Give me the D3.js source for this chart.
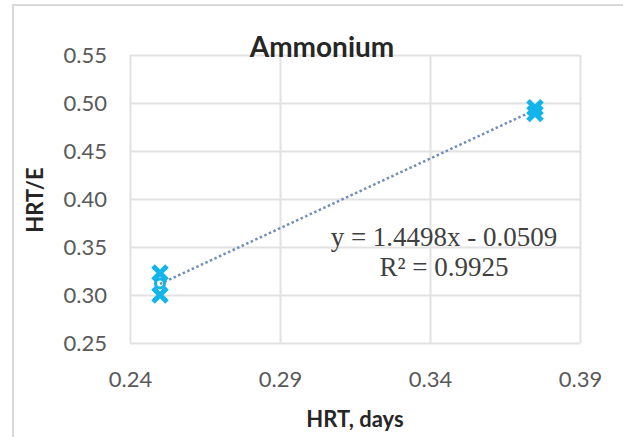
<!DOCTYPE html>
<html>
<head>
<meta charset="utf-8">
<script src="https://cdn.jsdelivr.net/npm/d3@7"></script>
<style>
  html, body { margin: 0; padding: 0; background: #fff; }
  svg { display: block; }
</style>
</head>
<body>
<svg id="chart"></svg>
<script>
// data
const hrtLow = [0.25, 0.25, 0.25];
const hrtELow = [0.323, 0.312, 0.300];
const hrtHigh = [0.375, 0.375, 0.375];
const hrtEHigh = [0.495, 0.492, 0.489];
const markerKinds = ["x", "circle", "x"];

const xTicks = [0.24, 0.29, 0.34, 0.39];
const yTicks = [0.25, 0.30, 0.35, 0.40, 0.45, 0.50, 0.55];

const slope = 1.4498;
const intercept = -0.0509;
const trendRange = [0.25, 0.375];
const eqLabel = "y = 1.4498x - 0.0509";
const r2Label = "R² = 0.9925";

const width = 623;
const height = 437;
const margin = { top: 55, right: 43, bottom: 94, left: 130 };

const svg = d3.select("#chart")
  .attr("width", width)
  .attr("height", height)
  .attr("viewBox", [0, 0, width, height]);

// chart frame
svg.append("rect")
  .attr("x", 13)
  .attr("y", 5)
  .attr("width", width)
  .attr("height", height)
  .attr("fill", "#fff")
  .attr("stroke", "#d9d9d9")
  .attr("stroke-width", 2);

const xScale = d3.scaleLinear()
  .domain([0.24, 0.39])
  .range([margin.left, width - margin.right]);

const yScale = d3.scaleLinear()
  .domain([0.25, 0.55])
  .range([height - margin.bottom, margin.top]);

const tickFont = "Lato, 'Open Sans', sans-serif";

// gridlines
const gy = svg.append("g")
  .attr("transform", `translate(${margin.left},0)`)
  .call(d3.axisLeft(yScale).tickValues(yTicks)
    .tickSize(-(width - margin.left - margin.right))
    .tickFormat(d3.format(".2f"))
    .tickPadding(23));
gy.select(".domain").remove();
gy.selectAll(".tick line").attr("stroke", "#e2e2e2").attr("stroke-width", 2);
gy.selectAll(".tick text")
  .attr("fill", "#595959")
  .style("font-family", tickFont)
  .style("font-size", "22px");

const gx = svg.append("g")
  .attr("transform", `translate(0,${height - margin.bottom})`)
  .call(d3.axisBottom(xScale).tickValues(xTicks)
    .tickSize(-(height - margin.top - margin.bottom))
    .tickFormat(d3.format(".2f"))
    .tickPadding(28));
gx.select(".domain").remove();
gx.selectAll(".tick line").attr("stroke", "#e2e2e2").attr("stroke-width", 2);
gx.selectAll(".tick text")
  .attr("fill", "#595959")
  .style("font-family", tickFont)
  .style("font-size", "22px");

// trendline (dotted)
svg.append("line")
  .attr("x1", xScale(trendRange[0]))
  .attr("y1", yScale(slope * trendRange[0] + intercept))
  .attr("x2", xScale(trendRange[1]))
  .attr("y2", yScale(slope * trendRange[1] + intercept))
  .attr("stroke", "#6f8fb8")
  .attr("stroke-width", 2.5)
  .attr("stroke-dasharray", "2.5,2.5");

// markers
const points = hrtLow.map((x, i) => ({ x, y: hrtELow[i], kind: markerKinds[i] }))
  .concat(hrtHigh.map((x, i) => ({ x, y: hrtEHigh[i], kind: markerKinds[i] })));

const color = "#12b4ec";
const s = 7;
const marks = svg.append("g");
points.forEach(p => {
  const cx = xScale(p.x), cy = yScale(p.y);
  if (p.kind === "x") {
    marks.append("path")
      .attr("d", `M${cx - s},${cy - s}L${cx + s},${cy + s}M${cx - s},${cy + s}L${cx + s},${cy - s}`)
      .attr("stroke", color)
      .attr("stroke-width", 5);
  } else {
    marks.append("circle")
      .attr("cx", cx)
      .attr("cy", cy)
      .attr("r", 4.5)
      .attr("fill", "none")
      .attr("stroke", color)
      .attr("stroke-width", 3);
  }
});

// equation
const eq = svg.append("text")
  .attr("text-anchor", "middle")
  .attr("fill", "#404040")
  .style("font-family", "'Liberation Serif', 'Times New Roman', serif")
  .style("font-size", "27px");
eq.append("tspan").attr("x", 444).attr("y", 246).text(eqLabel);
eq.append("tspan").attr("x", 444).attr("y", 276).text(r2Label);

// titles
svg.append("text")
  .attr("x", 322)
  .attr("y", 57)
  .attr("text-anchor", "middle")
  .attr("fill", "#262626")
  .style("font-family", tickFont)
  .style("font-weight", "bold")
  .style("font-size", "28px")
  .text("Ammonium");

svg.append("text")
  .attr("x", 355)
  .attr("y", 427)
  .attr("text-anchor", "middle")
  .attr("fill", "#262626")
  .style("font-family", tickFont)
  .style("font-weight", "bold")
  .style("font-size", "22px")
  .text("HRT, days");

svg.append("text")
  .attr("transform", "translate(43,200) rotate(-90)")
  .attr("text-anchor", "middle")
  .attr("fill", "#262626")
  .style("font-family", tickFont)
  .style("font-weight", "bold")
  .style("font-size", "22px")
  .text("HRT/E");
</script>
</body>
</html>
